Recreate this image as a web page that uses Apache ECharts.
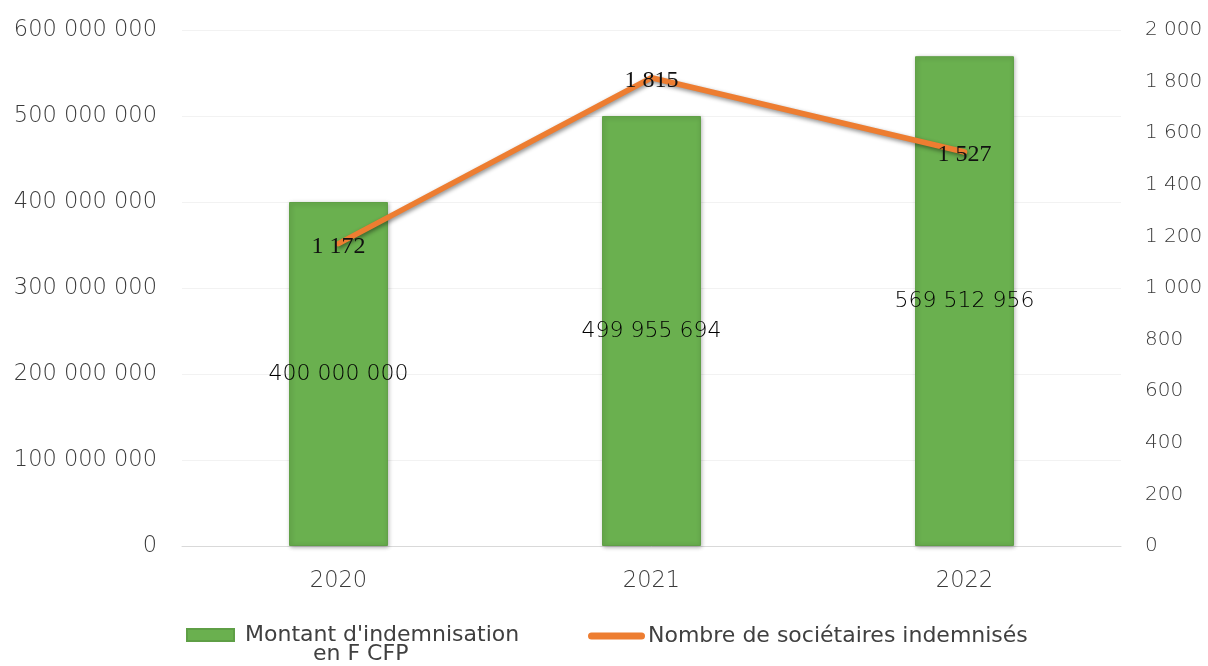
<!DOCTYPE html>
<html>
<head>
<meta charset="utf-8">
<script src="https://cdn.jsdelivr.net/npm/echarts@6/dist/echarts.min.js"></script>
<style>html,body{margin:0;padding:0;background:#fff}#c{width:1208px;height:666px}</style>
</head>
<body>
<div id="c"></div>
<script>
const years = ['2020', '2021', '2022'];
const montant = [400000000, 499955694, 569512956];
const societaires = [1172, 1815, 1527];
const barName = "Montant d'indemnisation\nen F CFP";
const lineName = 'Nombre de sociétaires indemnisés';

function fmt(v) {
  return String(Math.round(v)).replace(/\B(?=(\d{3})+(?!\d))/g, ' ');
}

const axisFont = 'DejaVu Sans';
const axisStyle = { color: '#3a3a3a', fontFamily: axisFont, fontSize: 22.5, fontWeight: 300 };
const legFont = 'DejaVu Sans';
const chart = echarts.init(document.getElementById('c'));
chart.setOption({
  animation: false,
  backgroundColor: '#fff',
  grid: { left: 182, right: 87, top: 30, bottom: 120, containLabel: false, outerBoundsMode: 'none' },
  legend: [
    {
      data: [barName], left: 186, top: 605, padding: 0, itemWidth: 47, itemHeight: 12, icon: 'rect',
      formatter: function () { return '{x| }\n{a|Montant d\'indemnisation}\n{b|en F CFP}'; },
      textStyle: {
        color: '#404040', fontFamily: legFont, fontSize: 22,
        rich: {
          x: { fontSize: 22, lineHeight: 19 },
          a: { fontSize: 22, lineHeight: 19, color: '#404040', padding: [0, 0, 0, 6], fontFamily: legFont },
          b: { fontSize: 22, lineHeight: 19, color: '#404040', padding: [0, 0, 0, 74], fontFamily: legFont }
        }
      }
    },
    {
      data: [lineName], left: 588, top: 625, padding: 0, itemWidth: 57, itemHeight: 7,
      icon: 'path://M3.5,0 L53.5,0 A3.5,3.5 0 0 1 53.5,7 L3.5,7 A3.5,3.5 0 0 1 3.5,0 Z',
      textStyle: { color: '#404040', fontFamily: legFont, fontSize: 22, padding: [0, 0, 0, -2] }
    }
  ],
  xAxis: {
    type: 'category', data: years,
    axisLine: { lineStyle: { color: '#d9d9d9' } },
    axisTick: { show: false },
    axisLabel: Object.assign({ margin: 24 }, axisStyle)
  },
  yAxis: [
    {
      type: 'value', min: 0, max: 600000000, interval: 100000000,
      axisLine: { show: false }, axisTick: { show: false },
      splitLine: { lineStyle: { color: '#f2f2f2' } },
      axisLabel: Object.assign({ margin: 25, formatter: fmt }, axisStyle)
    },
    {
      type: 'value', min: 0, max: 2000, interval: 200,
      axisLine: { show: false }, axisTick: { show: false },
      splitLine: { show: false },
      axisLabel: Object.assign({}, axisStyle, { margin: 24, fontSize: 20, formatter: fmt })
    }
  ],
  series: [
    {
      name: barName, type: 'bar', data: montant, yAxisIndex: 0, barWidth: '31.6%',
      itemStyle: { color: '#6AB04F', borderColor: '#5f9f46', borderWidth: 1, shadowColor: 'rgba(0,0,0,0.3)', shadowBlur: 4, shadowOffsetX: 1, shadowOffsetY: 1 },
      label: { show: true, position: 'inside', color: '#000', fontFamily: 'DejaVu Sans', fontSize: 22, fontWeight: 300, formatter: p => fmt(p.value) }
    },
    {
      name: lineName, type: 'line', data: societaires, yAxisIndex: 1,
      showSymbol: true, symbol: 'circle', symbolSize: 1,
      lineStyle: { color: '#ED7D31', width: 5.5, cap: 'round', join: 'round', shadowColor: 'rgba(0,0,0,0.45)', shadowBlur: 4, shadowOffsetX: 1, shadowOffsetY: 2 },
      itemStyle: { color: '#ED7D31' },
      label: { show: true, position: 'inside', offset: [0, 3], color: '#111', fontFamily: 'Liberation Serif', fontSize: 24, formatter: p => fmt(p.value) },
      z: 5
    }
  ]
});
</script>
</body>
</html>
